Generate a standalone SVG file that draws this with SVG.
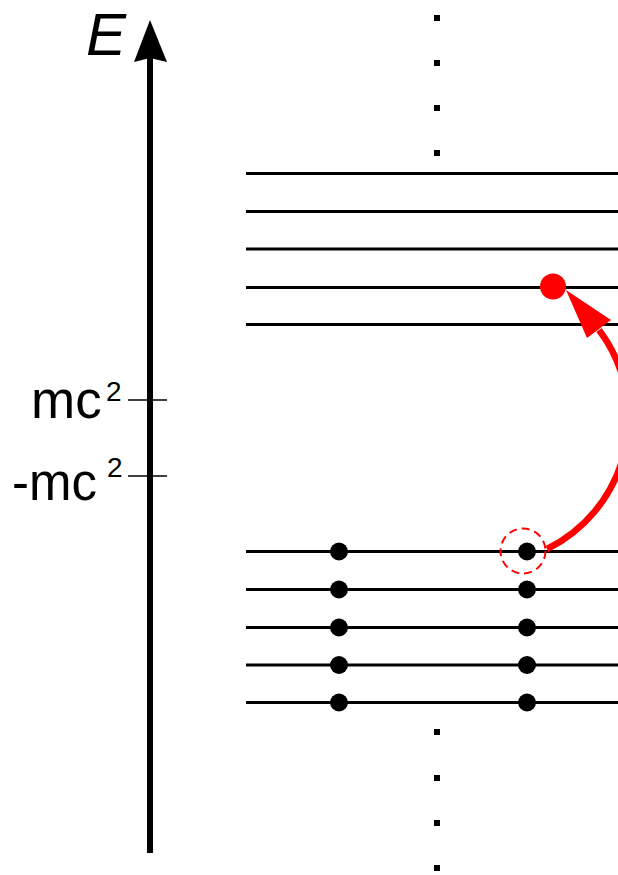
<svg xmlns="http://www.w3.org/2000/svg" width="618" height="875" viewBox="0 0 618 875">
<style>
.lvl{stroke:#000;stroke-width:3;fill:none}
.tick{stroke:#000;stroke-width:1.5}
.dot{fill:#000}
.sq{fill:#000}
.lbl{font-family:"Liberation Sans",Arial,sans-serif;fill:#000}
</style>
<rect width="618" height="875" fill="#fff"/>
<g id="axis">
<line x1="150" y1="853" x2="150" y2="55" stroke="#000" stroke-width="6"/>
<polygon points="150,20 167,62 150,58 134,62" fill="#000"/>
<text class="lbl" x="86" y="55" font-size="60" font-style="italic">E</text>
<line class="tick" x1="128" y1="400" x2="167" y2="400"/>
<line class="tick" x1="128" y1="476" x2="167" y2="476"/>
<text class="lbl" x="31" y="418" font-size="53">mc</text>
<text class="lbl" x="106" y="401" font-size="28">2</text>
<text class="lbl" x="12" y="500" font-size="51">-mc</text>
<text class="lbl" x="107" y="477" font-size="28">2</text>
</g>
<g id="upper-levels">
<line class="lvl" x1="246" y1="173.5" x2="618" y2="173.5"/>
<line class="lvl" x1="246" y1="211.5" x2="618" y2="211.5"/>
<line class="lvl" x1="246" y1="249" x2="618" y2="249"/>
<line class="lvl" x1="246" y1="287.5" x2="618" y2="287.5"/>
<line class="lvl" x1="246" y1="324.5" x2="618" y2="324.5"/>
</g>
<g id="lower-levels">
<line class="lvl" x1="246" y1="551.5" x2="618" y2="551.5"/>
<line class="lvl" x1="246" y1="589.5" x2="618" y2="589.5"/>
<line class="lvl" x1="246" y1="627.5" x2="618" y2="627.5"/>
<line class="lvl" x1="246" y1="665" x2="618" y2="665"/>
<line class="lvl" x1="246" y1="702.5" x2="618" y2="702.5"/>
</g>
<g id="ellipsis-top">
<rect class="sq" x="434" y="15" width="6" height="6"/>
<rect class="sq" x="434" y="60" width="6" height="6"/>
<rect class="sq" x="434" y="105" width="6" height="6"/>
<rect class="sq" x="434" y="150" width="6" height="6"/>
</g>
<g id="ellipsis-bottom">
<rect class="sq" x="434" y="729" width="6" height="6"/>
<rect class="sq" x="434" y="775" width="6" height="6"/>
<rect class="sq" x="434" y="820" width="6" height="6"/>
<rect class="sq" x="434" y="865" width="6" height="6"/>
</g>
<g id="electrons">
<circle class="dot" cx="339" cy="551.5" r="9"/>
<circle class="dot" cx="339" cy="589.5" r="9"/>
<circle class="dot" cx="339" cy="627.5" r="9"/>
<circle class="dot" cx="339" cy="665" r="9"/>
<circle class="dot" cx="339" cy="702.5" r="9"/>
<circle class="dot" cx="527" cy="551.5" r="9"/>
<circle class="dot" cx="527" cy="589.5" r="9"/>
<circle class="dot" cx="527" cy="627.5" r="9"/>
<circle class="dot" cx="527" cy="665" r="9"/>
<circle class="dot" cx="527" cy="702.5" r="9"/>
</g>
<g id="hole">
<circle cx="523" cy="551" r="22.5" fill="none" stroke="#f00" stroke-width="2" stroke-dasharray="8,5"/>
</g>
<g id="excited">
<circle cx="553" cy="286.5" r="13" fill="#f00"/>
</g>
<g id="connectors">
<path d="M547,549 A146,146 0 0 0 599,330" fill="none" stroke="#f00" stroke-width="6.5"/>
<polygon points="566,290 611,320 587,338" fill="#f00"/>
</g>
</svg>
